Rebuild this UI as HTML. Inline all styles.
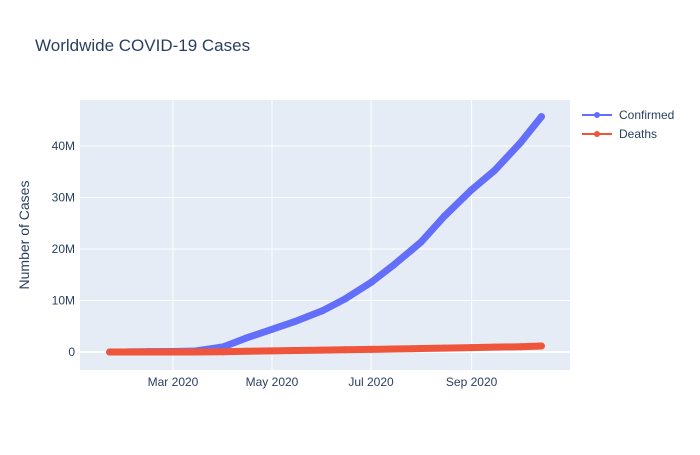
<!DOCTYPE html>
<html><head><meta charset="utf-8"><style>
body{margin:0;background:#fff;font-family:"Liberation Sans",Arial,sans-serif}
svg text{font-family:"Liberation Sans",Arial,sans-serif;fill:#2a3f5f}
</style></head><body>
<svg id="chart" width="700" height="450" xmlns="http://www.w3.org/2000/svg">
<rect x="0" y="0" width="700" height="450" fill="#fff"/>
<text x="35" y="51" font-size="17">Worldwide COVID-19 Cases</text>
<rect x="80" y="100" width="490" height="270" fill="#E5ECF6"/>
<g id="grid"></g>
<g id="series"></g>
<g id="axes"></g>
<text transform="translate(29,235) rotate(-90)" text-anchor="middle" font-size="14">Number of Cases</text>
<g>
<g>
<line x1="582" y1="115" x2="612" y2="115" stroke="#636efa" stroke-width="2"/><circle cx="597" cy="115" r="3" fill="#636efa"/>
<text x="619" y="119" font-size="12">Confirmed</text></g>
<g>
<line x1="582" y1="134" x2="612" y2="134" stroke="#EF553B" stroke-width="2"/><circle cx="597" cy="134" r="3" fill="#EF553B"/>
<text x="619" y="138" font-size="12">Deaths</text></g>
</g>
</svg>
<script>
const dates = ["2020-01-22","2020-02-01","2020-02-15","2020-03-01","2020-03-15","2020-04-01","2020-04-15","2020-05-01","2020-05-15","2020-06-01","2020-06-15","2020-07-01","2020-07-15","2020-07-26","2020-08-01","2020-08-15","2020-09-01","2020-09-15","2020-10-01","2020-10-14"];
const confirmed = [0.0006,0.012,0.07,0.09,0.2,1.0,2.7,4.4,5.9,8.0,10.3,13.5,16.9,19.8,21.4,26.3,31.5,35.2,40.6,45.7];
const deaths = [0,0.0003,0.0017,0.003,0.012,0.05,0.14,0.23,0.3,0.37,0.43,0.5,0.58,0.64,0.68,0.76,0.85,0.94,1.02,1.16];
const yTicks = [0,10,20,30,40];
const yTickLabels = ["0","10M","20M","30M","40M"];
const xTicks = ["2020-03-01","2020-05-01","2020-07-01","2020-09-01"];
const xTickLabels = ["Mar 2020","May 2020","Jul 2020","Sep 2020"];

const NS="http://www.w3.org/2000/svg";
const day=d=>Date.parse(d+"T00:00:00Z")/86400000;
const x0=day("2020-03-01");
const xs=d=>173+(day(d)-x0)*(99/61);
const ys=v=>352-v*5.15;
function mk(tag,attrs,parent){const e=document.createElementNS(NS,tag);for(const k in attrs)e.setAttribute(k,attrs[k]);parent.appendChild(e);return e;}
const grid=document.getElementById('grid'),axes=document.getElementById('axes'),series=document.getElementById('series');
yTicks.forEach((t,i)=>{
  const l=mk('line',{x1:80,x2:570,y1:ys(t),y2:ys(t),stroke:'#fff','stroke-width':t===0?2:1},grid);
  
  
  const tx=mk('text',{x:75,y:ys(t)+4,'text-anchor':'end','font-size':12},axes);
  tx.textContent=yTickLabels[i];
  
  
});
xTicks.forEach((t,i)=>{
  const l=mk('line',{x1:xs(t),x2:xs(t),y1:100,y2:370,stroke:'#fff','stroke-width':1},grid);
  
  
  const tx=mk('text',{x:xs(t),y:386,'text-anchor':'middle','font-size':12},axes);
  tx.textContent=xTickLabels[i];
  
  
});
function draw(vals,color,name){
  const pts=dates.map((d,i)=>xs(d)+','+ys(vals[i])).join(' ');
  const p=mk('polyline',{points:pts,fill:'none',stroke:color,'stroke-width':7,'stroke-linecap':'round','stroke-linejoin':'round'},series);
  
  
  dates.forEach((d,i)=>{
    const c=mk('circle',{cx:xs(d),cy:ys(vals[i]),r:3.5,fill:color},series);
    
    
  });
}
draw(confirmed,'#636efa','confirmed');
draw(deaths,'#EF553B','deaths');
</script>
</body></html>
